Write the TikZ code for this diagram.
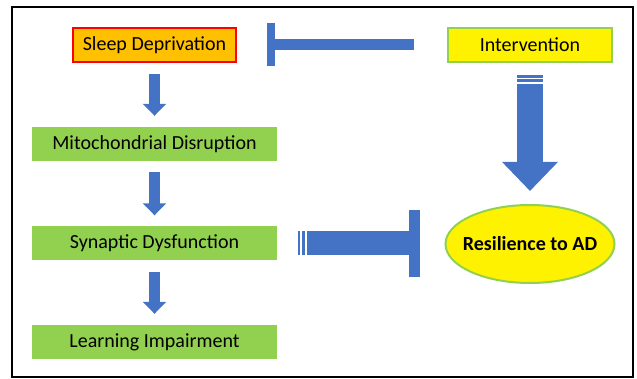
\documentclass[tikz,border=0pt]{standalone}
\usepackage{fontspec}
\setmainfont{Carlito}
\usetikzlibrary{arrows.meta,shapes.geometric}
\definecolor{arrowblue}{HTML}{4472C4}
\definecolor{boxgreen}{HTML}{92D050}
\definecolor{boxorange}{HTML}{FFC000}
\tikzset{
    stepbox/.style={fill=boxgreen, minimum width=245pt, minimum height=34pt, inner sep=0pt, font=\fontsize{20}{24}\selectfont},
    fatarrow/.style={arrowblue, line width=11pt, -{Triangle[length=12pt,width=23pt]}},
    bigarrow/.style={arrowblue, line width=26pt, -{Triangle[length=29pt,width=54pt]}},
    blocker/.style={arrowblue, line width=11pt, -{Rectangle[length=8pt,width=43pt]}},
    bigblocker/.style={arrowblue, line width=24pt, -{Rectangle[length=10.5pt,width=67pt]}}
}
\begin{document}
\begin{tikzpicture}[x=1pt,y=-1pt]
    	            \useasboundingbox (0,0) rectangle (637,379);
    	            \draw[line width=1.5pt] (12,7) rectangle (633,377);
    	            
    	            \node (sd) at (154.5,45) [stepbox, fill=boxorange, draw=red, line width=2pt, minimum width=163pt] {Sleep Deprivation};
    	            \node (md) at (154.5,144) [stepbox] {Mitochondrial Disruption};
    	            \node (syn) at (154.5,243.5) [stepbox] {Synaptic Dysfunction};
    	            \node (lp) at (154.5,342) [stepbox] {Learning Impairment};
    	            
    	            \node (int) at (530,45) [stepbox, fill=yellow, draw=boxgreen, line width=2pt, minimum width=164pt] {Intervention};
    	            \node (res) at (530,244) [ellipse, fill=yellow, draw=boxgreen, line width=2pt, minimum width=169pt, minimum height=78pt, inner sep=0pt, font=\fontsize{20}{24}\selectfont\bfseries] {\makebox[0pt]{Resilience to AD}};
    	            
    	            \draw[fatarrow] ([yshift=-11pt]sd.south) -- ([yshift=11pt]md.north);
    	            \draw[fatarrow] ([yshift=-11pt]md.south) -- ([yshift=11pt]syn.north);
    	            \draw[fatarrow] ([yshift=-11pt]syn.south) -- ([yshift=11pt]lp.north);
    	            
    	            \draw[blocker] ([xshift=-33pt]int.west) -- ([xshift=30pt]sd.east);
    	            
    	            \draw[bigarrow] ([yshift=-21pt]int.south) -- ([yshift=13pt]res.north);
    	            \foreach \a/\b in {12.3/14.7, 16.3/19.3}
    	                \draw[arrowblue, line width=26pt] ([yshift=-\a pt]int.south) -- ([yshift=-\b pt]int.south);
    	            
    	            \draw[bigblocker] ([xshift=29.7pt]syn.east) -- ([xshift=-25pt]res.west |- syn.east);
    	            \foreach \a/\b in {20.7/23, 24.7/27.7}
    	                \draw[arrowblue, line width=24pt] ([xshift=\a pt]syn.east) -- ([xshift=\b pt]syn.east);
    	        \end{tikzpicture}
\end{document}
